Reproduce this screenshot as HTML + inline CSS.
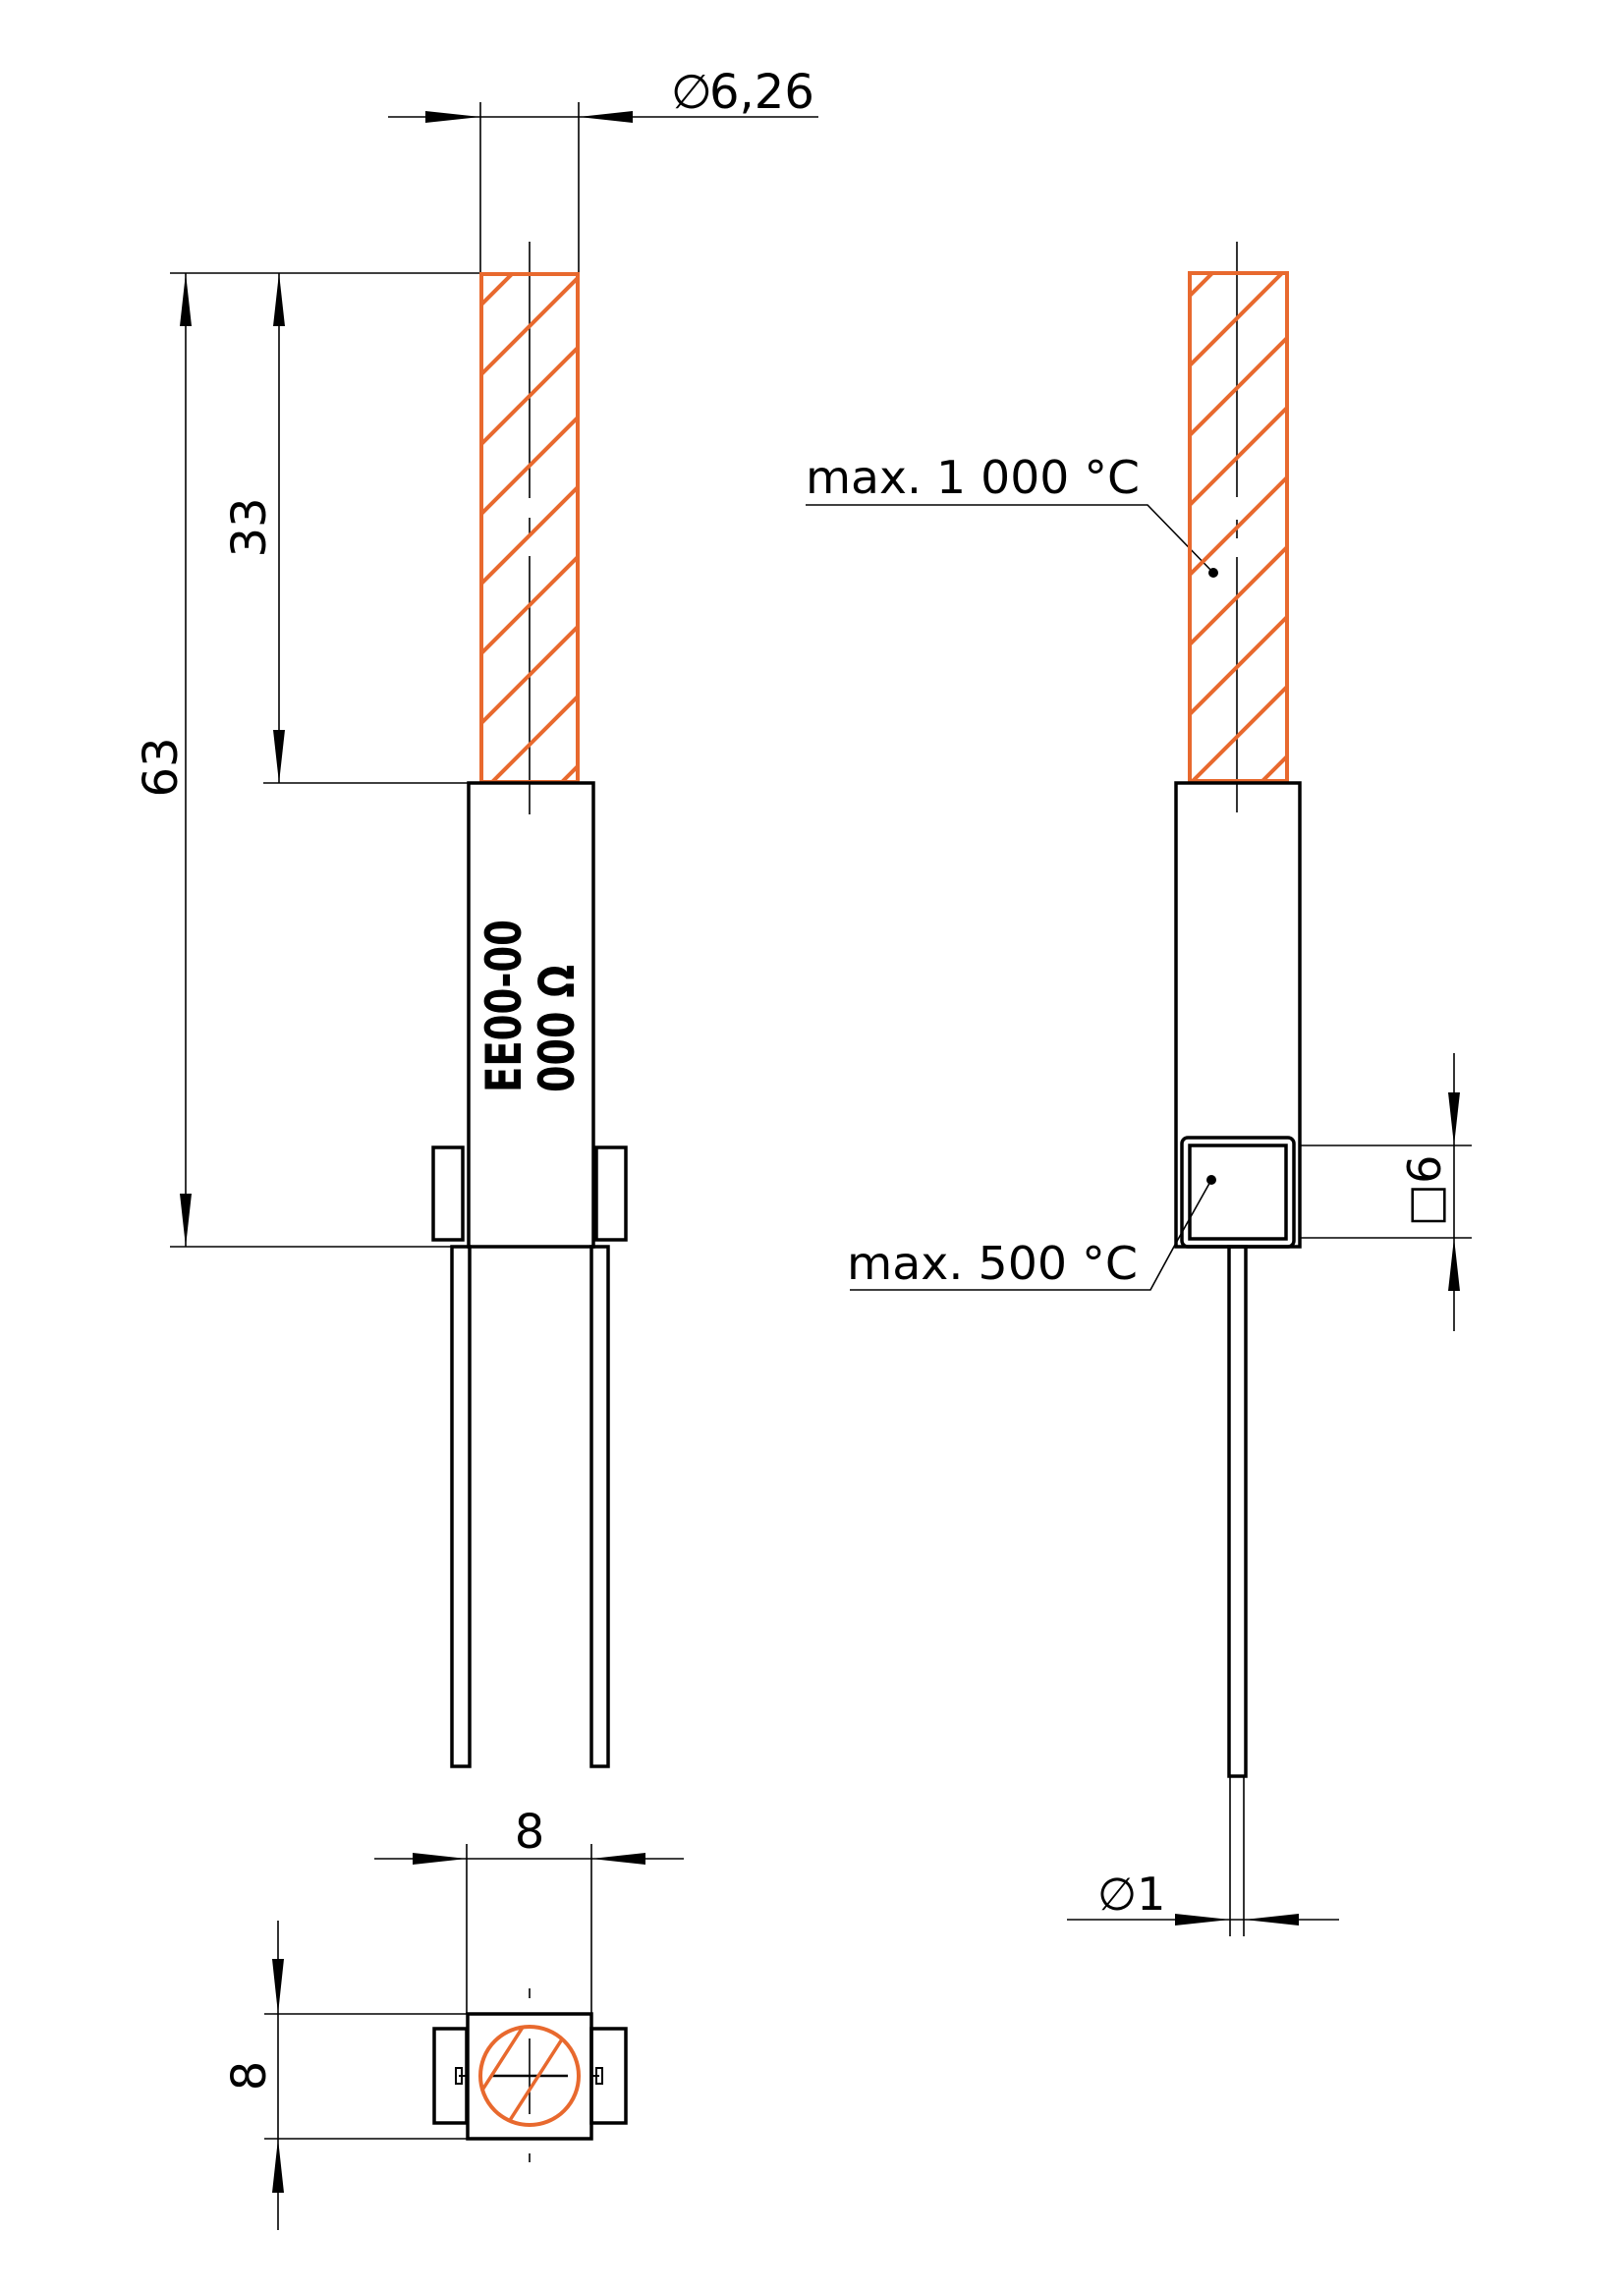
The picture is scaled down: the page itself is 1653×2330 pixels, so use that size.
<!DOCTYPE html>
<html><head><meta charset="utf-8"><style>
html,body{margin:0;padding:0;background:#fff;}
svg{display:block;}
text{font-family:"DejaVu Sans","Liberation Sans",sans-serif;fill:#000;}
</style></head><body>
<svg width="1653" height="2330" viewBox="0 0 1653 2330" xmlns="http://www.w3.org/2000/svg">
<defs>
<clipPath id="c1"><rect x="491" y="280" width="96" height="515"/></clipPath>
<clipPath id="c2"><rect x="1212" y="279" width="97" height="515"/></clipPath>
<clipPath id="c3"><circle cx="539" cy="2113" r="49"/></clipPath>
</defs>
<g fill="none" stroke="#000" stroke-width="1.6">
<!-- Ø6,26 dim -->
<line x1="489" y1="104" x2="489" y2="278"/>
<line x1="589" y1="104" x2="589" y2="278"/>
<line x1="395" y1="119" x2="833" y2="119"/>
<!-- 63 / 33 -->
<line x1="173" y1="278" x2="489" y2="278"/>
<line x1="268" y1="797" x2="476" y2="797"/>
<line x1="173" y1="1269" x2="462" y2="1269"/>
<line x1="189" y1="278" x2="189" y2="1269"/>
<line x1="284" y1="278" x2="284" y2="797"/>
<!-- centerline left -->
<line x1="539" y1="246" x2="539" y2="507"/>
<line x1="539" y1="527" x2="539" y2="547"/>
<line x1="539" y1="566" x2="539" y2="829"/>
<!-- centerline right -->
<line x1="1259" y1="246" x2="1259" y2="506"/>
<line x1="1259" y1="529" x2="1259" y2="548"/>
<line x1="1259" y1="567" x2="1259" y2="827"/>
<!-- Ø1 -->
<line x1="1252" y1="1808" x2="1252" y2="1971"/>
<line x1="1266" y1="1808" x2="1266" y2="1971"/>
<line x1="1086" y1="1954" x2="1363" y2="1954"/>
<!-- □6 -->
<line x1="1480" y1="1072" x2="1480" y2="1355"/>
<line x1="1323" y1="1166" x2="1498" y2="1166"/>
<line x1="1323" y1="1260" x2="1498" y2="1260"/>
<!-- leaders -->
<polyline points="820,514 1168,514 1235,583"/>
<polyline points="865,1313 1171,1313 1196,1267 1233,1201"/>
<!-- bottom dims -->
<line x1="475" y1="1877" x2="475" y2="2050"/>
<line x1="602" y1="1877" x2="602" y2="2050"/>
<line x1="381" y1="1892" x2="696" y2="1892"/>
<line x1="269" y1="2050" x2="475" y2="2050"/>
<line x1="269" y1="2177" x2="475" y2="2177"/>
<line x1="283" y1="1955" x2="283" y2="2270"/>
<line x1="539" y1="2024" x2="539" y2="2034"/>
<line x1="539" y1="2192" x2="539" y2="2201"/>
<line x1="539" y1="2075" x2="539" y2="2152"/>
<line x1="500" y1="2113" x2="578" y2="2113" stroke-width="2.5"/>
</g>
<!-- arrowheads -->
<g fill="#000">
<polygon points="433,113 489,119 433,125"/>
<polygon points="644,113 589,119 644,125"/>
<polygon points="183,332 189,278 195,332"/>
<polygon points="183,1215 189,1269 195,1215"/>
<polygon points="278,332 284,278 290,332"/>
<polygon points="278,743 284,797 290,743"/>
<polygon points="1196,1948 1252,1954 1196,1960"/>
<polygon points="1322,1948 1266,1954 1322,1960"/>
<polygon points="1474,1112 1480,1166 1486,1112"/>
<polygon points="1474,1314 1480,1260 1486,1314"/>
<polygon points="420,1886 475,1892 420,1898"/>
<polygon points="657,1886 602,1892 657,1898"/>
<polygon points="277,1994 283,2050 289,1994"/>
<polygon points="277,2232 283,2177 289,2232"/>
<circle cx="1235" cy="583" r="5"/>
<circle cx="1233" cy="1201" r="5"/>
</g>
<!-- orange hatched rods -->
<g stroke="#E8692E" stroke-width="4" fill="none">
<g clip-path="url(#c1)">
<line x1="480" y1="320" x2="620" y2="180"/><line x1="480" y1="391" x2="620" y2="251"/>
<line x1="480" y1="462" x2="620" y2="322"/><line x1="480" y1="533" x2="620" y2="393"/>
<line x1="480" y1="604" x2="620" y2="464"/><line x1="480" y1="675" x2="620" y2="535"/>
<line x1="480" y1="746" x2="620" y2="606"/><line x1="480" y1="817" x2="620" y2="677"/>
<line x1="480" y1="888" x2="620" y2="748"/>
</g>
<rect x="490" y="279" width="98" height="517"/>
<g clip-path="url(#c2)">
<line x1="1200" y1="312" x2="1340" y2="172"/><line x1="1200" y1="383" x2="1340" y2="243"/>
<line x1="1200" y1="454" x2="1340" y2="314"/><line x1="1200" y1="525" x2="1340" y2="385"/>
<line x1="1200" y1="596" x2="1340" y2="456"/><line x1="1200" y1="667" x2="1340" y2="527"/>
<line x1="1200" y1="738" x2="1340" y2="598"/><line x1="1200" y1="809" x2="1340" y2="669"/>
<line x1="1200" y1="880" x2="1340" y2="740"/>
</g>
<rect x="1211" y="278" width="99" height="517"/>
<g clip-path="url(#c3)" stroke-width="3.5">
<line x1="470" y1="2160" x2="560" y2="2020"/><line x1="505" y1="2180" x2="595" y2="2040"/>
<line x1="435" y1="2140" x2="525" y2="2000"/>
</g>
<circle cx="539" cy="2113" r="50"/>
</g>
<!-- black body outlines -->
<g fill="none" stroke="#000" stroke-width="3.5">
<rect x="477" y="797" width="127" height="472"/>
<rect x="441" y="1168" width="30" height="94"/>
<rect x="607" y="1168" width="30" height="94"/>
<rect x="460" y="1269" width="18" height="529"/>
<rect x="602" y="1269" width="17" height="529"/>
<rect x="1197" y="797" width="126" height="472"/>
<rect x="1203" y="1158" width="114" height="111" rx="6"/>
<rect x="1211" y="1166" width="98" height="95"/>
<rect x="1251" y="1269" width="17" height="539"/>
<rect x="476" y="2050" width="126" height="127"/>
<rect x="442" y="2065" width="33" height="96"/>
<rect x="602" y="2065" width="35" height="96"/>
</g>
<g stroke="#000" stroke-width="2" fill="none">
<line x1="467" y1="2113" x2="475" y2="2113"/><line x1="602" y1="2113" x2="610" y2="2113"/>
<rect x="464" y="2105" width="6" height="16"/><rect x="607" y="2105" width="6" height="16"/>
</g>
<!-- labels -->
<text x="683" y="110" font-size="48">∅</text>
<text x="722" y="110" font-size="48">6,26</text>
<text transform="translate(270,537) rotate(-90)" font-size="48" text-anchor="middle">33</text>
<text transform="translate(180,781) rotate(-90)" font-size="48" text-anchor="middle">63</text>
<text transform="translate(530,1024) rotate(-90)" font-size="50" font-weight="bold" text-anchor="middle" textLength="176" lengthAdjust="spacingAndGlyphs">EE00-00</text>
<text transform="translate(584,1047) rotate(-90)" font-size="50" font-weight="bold" text-anchor="middle" textLength="130" lengthAdjust="spacingAndGlyphs">000 Ω</text>
<text x="820" y="502" font-size="46" textLength="340" lengthAdjust="spacingAndGlyphs">max. 1 000 °C</text>
<text x="862" y="1302" font-size="46" textLength="296" lengthAdjust="spacingAndGlyphs">max. 500 °C</text>
<text transform="translate(1466,1212) rotate(-90)" font-size="46" text-anchor="middle">□6</text>
<text x="1117" y="1944" font-size="46">∅1</text>
<text x="539" y="1881" font-size="48" text-anchor="middle">8</text>
<text transform="translate(270,2113) rotate(-90)" font-size="48" text-anchor="middle">8</text>
</svg>
</body></html>
